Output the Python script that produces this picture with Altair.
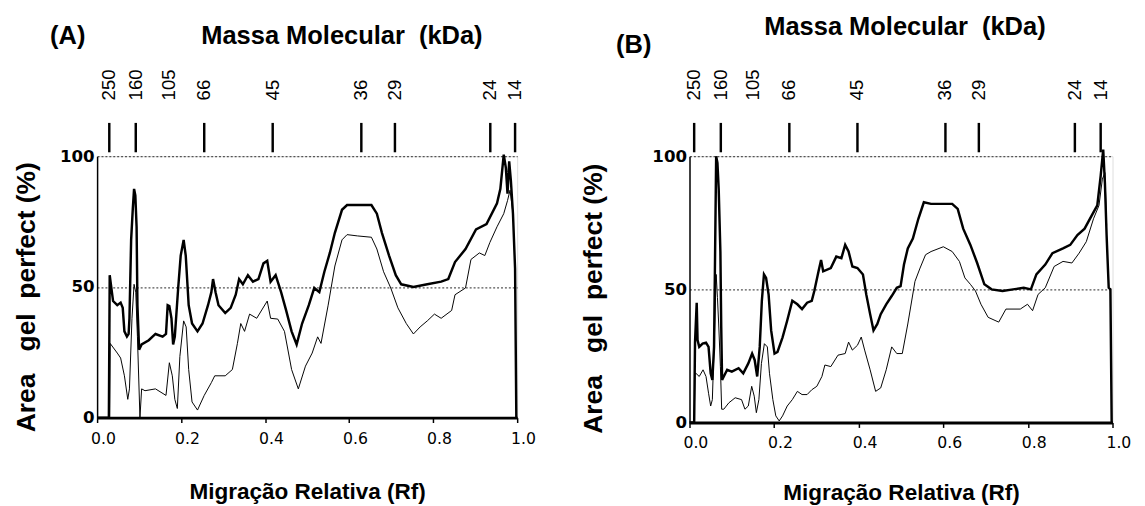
import altair as alt
import pandas as pd

# ---------------- data ----------------
# Panel A
rf_a_thick = [0.000, 0.028, 0.030, 0.038, 0.048, 0.056, 0.061, 0.065, 0.071, 0.075, 0.077, 0.081, 0.085,
              0.088, 0.091, 0.094, 0.096, 0.100, 0.106, 0.123, 0.139, 0.156, 0.164, 0.168, 0.172, 0.177,
              0.181, 0.185, 0.193, 0.199, 0.206, 0.211, 0.218, 0.226, 0.239, 0.251, 0.264, 0.272, 0.276,
              0.282, 0.289, 0.305, 0.318, 0.330, 0.338, 0.347, 0.359, 0.371, 0.384, 0.396, 0.405, 0.413,
              0.425, 0.438, 0.450, 0.463, 0.475, 0.488, 0.504, 0.517, 0.529, 0.541, 0.554, 0.566, 0.583,
              0.595, 0.653, 0.666, 0.678, 0.695, 0.711, 0.724, 0.753, 0.786, 0.819, 0.836, 0.852, 0.877,
              0.902, 0.927, 0.952, 0.960, 0.968, 0.973, 0.977, 0.981, 0.985, 0.990, 0.995, 0.998]
pct_a_thick = [0, 0, 54.5, 44.6, 43, 44, 42, 33, 31, 32, 38, 68, 80,
               87.5, 85, 73, 43, 26, 28, 29.6, 32, 31, 32, 43, 42.7, 38,
               28, 31, 49.6, 62, 68, 62, 43, 36, 33, 36, 43, 48, 53,
               48, 43, 40, 42, 47, 53, 51, 54.5, 52, 53, 59, 60, 52,
               54.5, 48, 41, 33, 28, 36, 43, 49.6, 48, 55.8, 63, 70.7, 79.5,
               81.3, 81.3, 78, 70.7, 62, 54.5, 51, 50, 51, 52, 53, 59.5, 64.5,
               72, 74, 82, 87.5, 100.6, 95.6, 85.7, 98, 90.7, 78, 57, 0]

rf_a_thin = [0.030, 0.031, 0.048, 0.056, 0.065, 0.073, 0.077, 0.083, 0.088, 0.092, 0.096, 0.102, 0.106,
             0.114, 0.139, 0.164, 0.172, 0.179, 0.185, 0.191, 0.197, 0.206, 0.212, 0.218, 0.226, 0.239,
             0.255, 0.272, 0.280, 0.305, 0.322, 0.334, 0.342, 0.351, 0.363, 0.380, 0.405, 0.413, 0.430,
             0.446, 0.463, 0.479, 0.496, 0.512, 0.525, 0.533, 0.550, 0.566, 0.583, 0.595, 0.620, 0.653,
             0.666, 0.682, 0.699, 0.716, 0.736, 0.753, 0.769, 0.786, 0.803, 0.819, 0.844, 0.852, 0.877,
             0.890, 0.910, 0.923, 0.935, 0.952, 0.968, 0.977, 0.983, 0.990]
pct_a_thin = [0, 28.4, 24.7, 22.8, 16, 7, 11, 38, 51, 48, 31, 0, 11,
              10.3, 11, 8.5, 21, 16, 7, 3.5, 23.4, 37, 34.7, 18.4, 6, 2.9,
              8.5, 13.4, 16, 16, 18.4, 28.4, 36, 33, 39.6, 38, 44.6, 38, 37.7,
              33, 18.4, 11, 19.7, 24.7, 30.9, 28.4, 43, 58, 68, 70, 69.5, 69,
              64.5, 55.8, 49.6, 42, 36, 32, 34.7, 37, 39.6, 38, 41, 47, 49.6,
              60.5, 63, 62, 67, 73, 78, 83, 87, 78]

# Panel B
rf_b_thick = [0.000, 0.011, 0.013, 0.017, 0.019, 0.023, 0.031, 0.039, 0.045, 0.050, 0.054, 0.058, 0.060,
              0.063, 0.066, 0.069, 0.073, 0.075, 0.077, 0.081, 0.089, 0.100, 0.116, 0.127, 0.139, 0.148,
              0.154, 0.160, 0.166, 0.171, 0.176, 0.181, 0.187, 0.193, 0.201, 0.208, 0.220, 0.231, 0.243,
              0.255, 0.266, 0.278, 0.289, 0.295, 0.305, 0.311, 0.316, 0.334, 0.347, 0.359, 0.368, 0.376,
              0.385, 0.397, 0.410, 0.418, 0.427, 0.435, 0.444, 0.452, 0.465, 0.478, 0.490, 0.499, 0.507,
              0.516, 0.528, 0.541, 0.554, 0.571, 0.621, 0.634, 0.647, 0.664, 0.680, 0.697, 0.714, 0.740,
              0.765, 0.790, 0.807, 0.820, 0.841, 0.858, 0.883, 0.900, 0.917, 0.934, 0.951, 0.964, 0.972,
              0.978, 0.982, 0.986, 0.991, 0.995, 0.998]
pct_b_thick = [0, 0, 30, 45, 31, 28.4, 29.6, 30, 28.4, 18.5, 16, 28.4, 56.8,
               100, 97.5, 87.7, 64, 35.8, 16, 17.3, 19.8, 19.1, 20.4, 18.5, 22.2, 25.9,
               23.5, 17.3, 28.4, 45.7, 55.6, 54.3, 48, 34.6, 25.9, 26.5, 32, 38.3, 45.7,
               44.4, 42.6, 45, 45.7, 49.4, 56.8, 61, 56.8, 58, 62.3, 61.7, 66.7, 64.2,
               58.6, 58, 55.6, 48, 40.7, 34.6, 37, 40.7, 44.4, 47.5, 50.6, 51.2, 59.3,
               65.4, 69.1, 76.5, 82.7, 82.1, 82.1, 80.2, 72.8, 66.7, 59.9, 51.9, 50, 49.4,
               50, 50.6, 50, 55.6, 59.3, 63.6, 65.4, 66.7, 70.4, 72.8, 77.8, 81.5, 92.6,
               102.5, 90, 70.4, 50.6, 50, 0]

rf_b_thin = [0.011, 0.013, 0.015, 0.023, 0.032, 0.039, 0.045, 0.050, 0.054, 0.059, 0.063, 0.066, 0.069,
             0.073, 0.076, 0.081, 0.093, 0.108, 0.123, 0.131, 0.139, 0.147, 0.153, 0.158, 0.164, 0.170,
             0.177, 0.184, 0.189, 0.197, 0.204, 0.212, 0.220, 0.231, 0.243, 0.255, 0.266, 0.278, 0.289,
             0.301, 0.313, 0.320, 0.334, 0.351, 0.368, 0.376, 0.385, 0.397, 0.406, 0.414, 0.427, 0.440,
             0.452, 0.465, 0.478, 0.490, 0.503, 0.516, 0.533, 0.545, 0.558, 0.571, 0.600, 0.621, 0.638,
             0.651, 0.664, 0.676, 0.689, 0.706, 0.731, 0.748, 0.782, 0.799, 0.811, 0.824, 0.841, 0.862,
             0.883, 0.904, 0.921, 0.938, 0.955, 0.968, 0.976, 0.982, 0.986]
pct_b_thin = [0, 18.5, 18.5, 17.3, 19.8, 17.3, 11, 6.2, 8.6, 33.3, 55.6, 47, 37,
              21, 5, 5, 7.4, 9.3, 8.6, 5, 6.2, 13.6, 9.9, 3.7, 8.6, 22.2,
              29.6, 28.4, 18.5, 8.6, 2.5, 0.6, 2.5, 6.2, 8.6, 11.7, 10.5, 10.5, 12.3,
              13.6, 17.3, 21.6, 21, 25.3, 25.9, 30.2, 27.2, 29, 32.1, 27.2, 19.8, 11.7,
              13, 19.8, 28.4, 25.9, 25.9, 37, 53, 58, 63, 64.2, 66, 64.2, 60.5,
              54.3, 51.9, 49.4, 44.4, 39.5, 37.7, 42.6, 42.6, 44.4, 42, 48.1, 50.6, 58.6,
              60.5, 59.9, 63.6, 67.9, 76.5, 81.5, 91.4, 93.8, 74]

# molecular mass markers (kDa) and their Rf positions
kda_labels = ["250", "160", "105", "66", "45", "36", "29", "24", "14"]
marker_has_tick = [True, True, False, True, True, True, True, True, True]
rf_markers_a = [0.029, 0.092, 0.171, 0.255, 0.418, 0.629, 0.709, 0.936, 0.995]
rf_markers_b = [0.011, 0.074, 0.150, 0.236, 0.397, 0.605, 0.684, 0.911, 0.972]

x_ticks = [0.0, 0.2, 0.4, 0.6, 0.8, 1.0]
y_ticks = [0, 50, 100]
NB = "\u00a0"
top_title = "Massa Molecular" + NB + NB + "(kDa)"
x_title = "Migração Relativa (Rf)"
y_title = "Area" + NB * 3 + "gel" + NB * 2 + "perfect" + NB + "(%)"

NUM_FONT = "DejaVu Sans"
BOLD_FONT = "Liberation Sans"


def lines_df(rf_thick, pct_thick, rf_thin, pct_thin):
    a = pd.DataFrame({"rf": rf_thick, "pct": pct_thick, "s": "thick"})
    a["i"] = range(len(a))
    b = pd.DataFrame({"rf": rf_thin, "pct": pct_thin, "s": "thin"})
    b["i"] = range(len(b))
    return pd.concat([a, b], ignore_index=True)


def panel(df, rf_markers, letter, letter_xy, title_xy, width, height,
          title_pad, title_dy, xtitle_pad):
    xax = alt.Axis(values=x_ticks, format=".1f", labelFont=NUM_FONT, labelFontSize=16,
                   labelColor="black", labelOffset=6, labelPadding=8, labelFlush=False,
                   tickSize=5, tickWidth=1.5, tickColor="black",
                   domainColor="black", domainWidth=3, grid=False,
                   title=x_title, titleFont=BOLD_FONT, titleFontSize=23,
                   titleFontWeight="bold", titleColor="black", titlePadding=xtitle_pad)
    yax = alt.Axis(values=y_ticks, labelFont=NUM_FONT, labelFontSize=17, labelColor="black",
                   labelFontWeight="bold",
                   labelPadding=3, ticks=False, domainColor="black", domainWidth=1.5,
                   grid=True, gridDash=[2, 2], gridColor="#555555", gridWidth=1.2,
                   title=y_title, titleFont=BOLD_FONT, titleFontSize=27,
                   titleFontWeight="bold", titleColor="black", titlePadding=title_pad,
                   titleY=height / 2 + title_dy)
    xscale = alt.Scale(domain=[0, 1], nice=False, zero=False)
    xenc = alt.X("rf:Q", scale=xscale, axis=xax)
    base = alt.Chart(df).encode(
        x=xenc,
        y=alt.Y("pct:Q", scale=alt.Scale(domain=[0, 100], nice=False), axis=yax),
        order=alt.Order("i:Q"),
    )
    thick = base.transform_filter(alt.datum.s == "thick").mark_line(
        color="black", strokeWidth=2.5, interpolate="linear")
    thin = base.transform_filter(alt.datum.s == "thin").mark_line(
        color="black", strokeWidth=1.0, interpolate="linear")

    mk = pd.DataFrame({"rf": rf_markers, "kda": kda_labels, "tick": marker_has_tick})
    ticks = alt.Chart(mk).transform_filter(alt.datum.tick).mark_rule(
        color="black", strokeWidth=2.5).encode(
        x=xenc, y=alt.value(-34), y2=alt.value(-4))
    labels = alt.Chart(mk).mark_text(
        angle=270, align="left", baseline="middle", font=BOLD_FONT, fontSize=19,
        color="black").encode(
        x=xenc, y=alt.value(-57), text="kda:N")

    ttl = alt.Chart(pd.DataFrame({"t": [top_title]})).mark_text(
        font=BOLD_FONT, fontSize=26, fontWeight="bold", color="black",
        align="center", baseline="middle").encode(
        x=alt.value(title_xy[0]), y=alt.value(title_xy[1]), text="t:N")
    let = alt.Chart(pd.DataFrame({"t": [letter]})).mark_text(
        font=BOLD_FONT, fontSize=26, fontWeight="bold", color="black",
        align="center", baseline="middle").encode(
        x=alt.value(letter_xy[0]), y=alt.value(letter_xy[1]), text="t:N")

    return alt.layer(thin, thick, ticks, labels, ttl, let).properties(width=width, height=height)


pa = panel(lines_df(rf_a_thick, pct_a_thick, rf_a_thin, pct_a_thin), rf_markers_a,
           "(A)", (-30, -123), (250, -123), 429, 267, 19, 10, 36)
pb = panel(lines_df(rf_b_thick, pct_b_thick, rf_b_thin, pct_b_thin), rf_markers_b,
           "(B)", (-57, -113), (220, -132), 432, 272, 45, 9, 32)

chart = alt.hconcat(pa, pb, spacing=44).properties(
    padding={"left": 5, "top": 0, "right": 5, "bottom": 0}
).configure_view(stroke=None).configure(background="white")

chart.save("out.html", embed_options={"renderer": "svg", "actions": False})
